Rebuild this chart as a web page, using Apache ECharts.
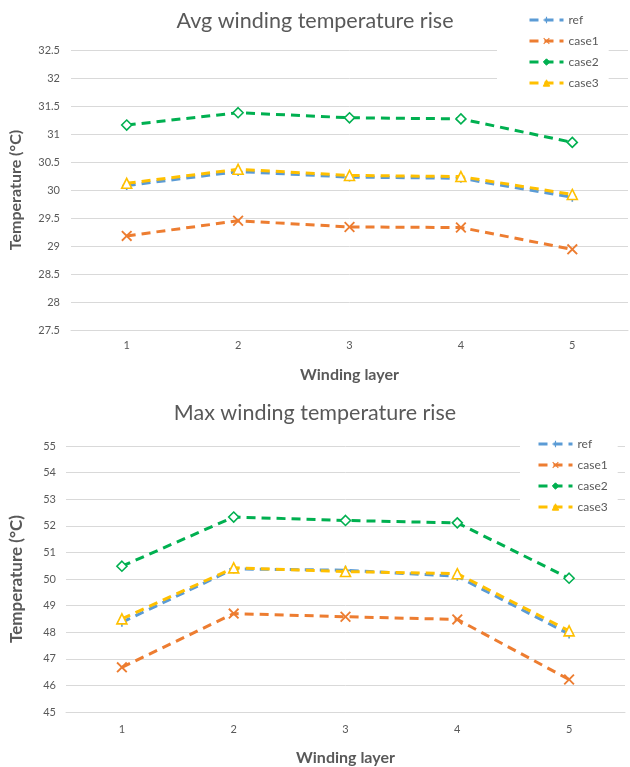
<!DOCTYPE html>
<html><head><meta charset="utf-8">
<script src="https://cdn.jsdelivr.net/npm/echarts@6/dist/echarts.min.js"></script>
<style>html,body{margin:0;padding:0;background:#fff}#c{width:630px;height:767px}</style>
</head><body><div id="c"></div><script>
// ---- data ----
const layers = ['1', '2', '3', '4', '5'];
const seriesNames = ['ref', 'case1', 'case2', 'case3'];
const avgRef   = [30.08, 30.33, 30.23, 30.21, 29.87];
const avgCase1 = [29.18, 29.45, 29.34, 29.33, 28.94];
const avgCase2 = [31.16, 31.38, 31.29, 31.27, 30.85];
const avgCase3 = [30.12, 30.37, 30.26, 30.24, 29.92];
const maxRef   = [48.37, 50.38, 50.33, 50.10, 47.93];
const maxCase1 = [46.68, 48.70, 48.58, 48.48, 46.22];
const maxCase2 = [50.48, 52.33, 52.20, 52.11, 50.03];
const maxCase3 = [48.50, 50.42, 50.28, 50.20, 48.05];
const avgTitle = 'Avg winding temperature rise';
const maxTitle = 'Max winding temperature rise';
const xName = 'Winding layer';
const yName = 'Temperature (°C)';

// ---- styles ----
const FONT = 'Lato';
const TXT = '#595959';
const GRID = '#d9d9d9';
const colors = ['#5B9BD5', '#ED7D31', '#00B050', '#FFC000'];
const plusPath = 'path://M4.1,0H5.9V4.1H10V5.9H5.9V10H4.1V5.9H0V4.1H4.1Z';
const xPath = 'path://M0,1.2L1.2,0L5,3.8L8.8,0L10,1.2L6.2,5L10,8.8L8.8,10L5,6.2L1.2,10L0,8.8L3.8,5Z';
const symbolDefs = [
  {symbol: plusPath, symbolSize: 9, itemStyle: {color: colors[0], borderWidth: 0}},
  {symbol: xPath, symbolSize: 11, itemStyle: {color: colors[1], borderWidth: 0}},
  {symbol: 'diamond', symbolSize: 10, itemStyle: {color: '#fff', borderColor: colors[2], borderWidth: 1.6}},
  {symbol: 'triangle', symbolSize: 10, itemStyle: {color: '#fff', borderColor: colors[3], borderWidth: 1.6}}
];

function mkSeries(dataArr, idx) {
  return dataArr.map((d, i) => ({
    name: seriesNames[i], type: 'line', data: d,
    xAxisIndex: idx, yAxisIndex: idx,
    symbol: symbolDefs[i].symbol, symbolSize: symbolDefs[i].symbolSize,
    itemStyle: symbolDefs[i].itemStyle,
    lineStyle: {color: colors[i], width: 3, type: [9, 6]},
    color: colors[i],
    z: 2 + i
  }));
}

const xAxisCommon = {
  type: 'category', data: layers, boundaryGap: true,
  axisLine: {lineStyle: {color: GRID}}, axisTick: {show: false},
  axisLabel: {color: TXT, fontSize: 11, fontFamily: FONT},
  name: xName, nameLocation: 'middle',
  nameTextStyle: {color: TXT, fontSize: 16, fontWeight: 'bold', fontFamily: FONT}
};
const yAxisCommon = {
  type: 'value', axisLine: {show: false}, axisTick: {show: false},
  splitLine: {lineStyle: {color: GRID}},
  axisLabel: {color: TXT, fontSize: 11, fontFamily: FONT},
  name: yName, nameLocation: 'middle',
  nameTextStyle: {color: TXT, fontSize: 16, fontWeight: 'bold', fontFamily: FONT}
};

const legendData = seriesNames.map((n, i) => ({
  name: n,
  itemStyle: i < 2 ? {color: colors[i]} : {color: colors[i], borderWidth: 1}
}));
const legendCommon = {
  data: legendData, orient: 'vertical', backgroundColor: '#fff',
  itemWidth: 34, itemHeight: 8, itemGap: 9,
  lineStyle: {width: 3},
  textStyle: {color: TXT, fontSize: 12, fontFamily: FONT}, z: 10
};

const chart = echarts.init(document.getElementById('c'), null, {renderer: 'canvas'});
chart.setOption({
  animation: false,
  backgroundColor: '#fff',
  title: [
    {text: avgTitle, left: 'center', top: 5, textStyle: {color: TXT, fontSize: 21.5, fontWeight: 'normal', fontFamily: FONT}},
    {text: maxTitle, left: 'center', top: 397, textStyle: {color: TXT, fontSize: 21.5, fontWeight: 'normal', fontFamily: FONT}}
  ],
  legend: [
    Object.assign({}, legendCommon, {left: 497, top: 5, padding: [9, 10, 10, 31]}),
    Object.assign({}, legendCommon, {left: 520, top: 429, padding: [9, 10, 10, 17]})
  ],
  grid: [
    {left: 69, width: 559, top: 50, height: 280},
    {left: 61, width: 564, top: 446, height: 277}
  ],
  xAxis: [
    Object.assign({}, xAxisCommon, {gridIndex: 0, nameGap: 37, axisLabel: Object.assign({}, xAxisCommon.axisLabel, {margin: 10})}),
    Object.assign({}, xAxisCommon, {gridIndex: 1, nameGap: 38, axisLabel: Object.assign({}, xAxisCommon.axisLabel, {margin: 12})})
  ],
  yAxis: [
    Object.assign({}, yAxisCommon, {gridIndex: 0, min: 27.5, max: 32.5, interval: 0.5, nameGap: 47, axisLabel: Object.assign({}, yAxisCommon.axisLabel, {margin: 11})}),
    Object.assign({}, yAxisCommon, {gridIndex: 1, min: 45, max: 55, interval: 1, nameGap: 41,
      nameTextStyle: Object.assign({}, yAxisCommon.nameTextStyle, {fontSize: 17}),
      axisLabel: Object.assign({}, yAxisCommon.axisLabel, {margin: 10})})
  ],
  series: mkSeries([avgRef, avgCase1, avgCase2, avgCase3], 0)
    .concat(mkSeries([maxRef, maxCase1, maxCase2, maxCase3], 1))
});
</script></body></html>
